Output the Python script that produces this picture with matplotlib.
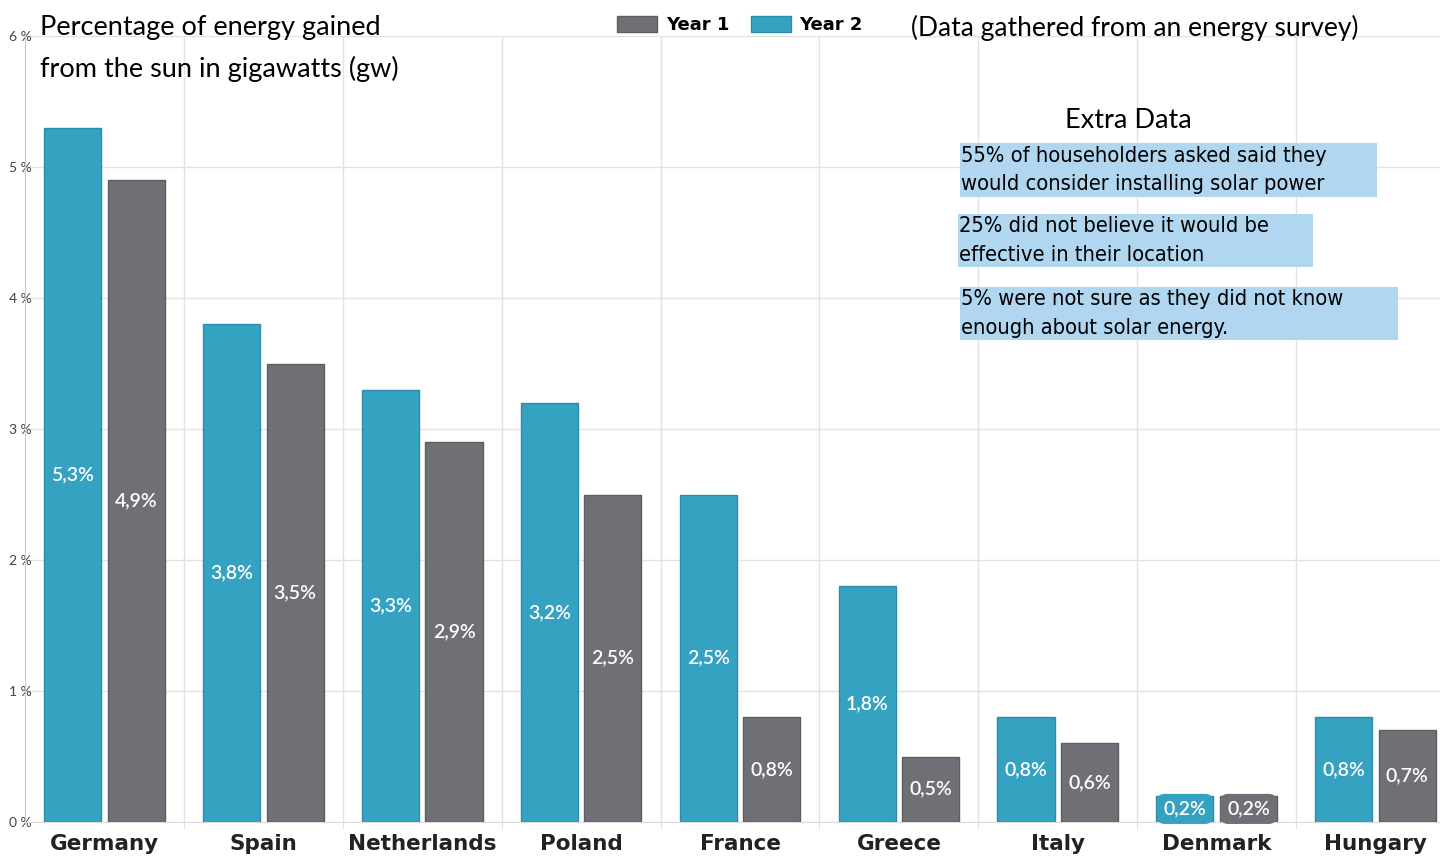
import matplotlib.pyplot as plt
from matplotlib.patches import Rectangle
import numpy as np

countries = ["Germany", "Spain", "Netherlands", "Poland", "France",
             "Greece", "Italy", "Denmark", "Hungary"]
year2 = [5.3, 3.8, 3.3, 3.2, 2.5, 1.8, 0.8, 0.2, 0.8]
year1 = [4.9, 3.5, 2.9, 2.5, 0.8, 0.5, 0.6, 0.2, 0.7]
yticks = [0, 1, 2, 3, 4, 5, 6]
notes = ["55% of householders asked said they\nwould consider installing solar power",
         "25% did not believe it would be\neffective in their location",
         "5% were not sure as they did not know\nenough about solar energy."]

BLUE = "#35a2c1"
GREY = "#6e7075"
W, H = 1440, 856

fig = plt.figure(figsize=(14.4, 8.56), dpi=100)
ax = fig.add_axes([25 / W, 34 / H, 1430 / W, 786 / H])

x = np.arange(len(countries))
b2 = ax.bar(x - 0.2, year2, 0.36, color=BLUE, edgecolor="#2b8cab", linewidth=1, label="Year 2", zorder=3)
b1 = ax.bar(x + 0.2, year1, 0.36, color=GREY, edgecolor="#5c5e62", linewidth=1, label="Year 1", zorder=3)

for bars, vals, col in [(b2, year2, BLUE), (b1, year1, GREY)]:
    for r, v in zip(bars, vals):
        txt = f"{v:.1f}".replace(".", ",") + "%"
        kw = {}
        if v < 0.3:
            kw["bbox"] = dict(boxstyle="round,pad=0.3,rounding_size=0.35", fc=col, ec=col)
        ax.text(r.get_x() + r.get_width() / 2, v / 2 if v >= 0.3 else 0.1, txt,
                ha="center", va="center", color="white", fontsize=14,
                family="Lato", fontweight="semibold", zorder=4, **kw)

ax.set_xlim(-0.5, 8.5)
ax.set_ylim(0, 6)
ax.set_yticks(yticks)
ax.set_yticklabels([f"{t} %" for t in yticks], family="Lato", fontsize=10, color="#444444")
ax.tick_params(axis="y", length=0, pad=-5)
for lab in ax.get_yticklabels():
    lab.set_verticalalignment("center_baseline")
ax.set_xticks(x)
ax.set_xticklabels(countries, fontsize=15.5, fontweight="bold", color="#222222")
ax.tick_params(axis="x", length=0, pad=9)
ax.set_xticks(np.arange(0.5, 8.5, 1), minor=True)
ax.tick_params(axis="x", which="minor", length=5, color="#dddddd")
ax.grid(axis="y", color="#e2e2e2", linewidth=1, zorder=0)
ax.grid(axis="x", which="minor", color="#e2e2e2", linewidth=1, zorder=0)
for s in ["top", "right"]:
    ax.spines[s].set_visible(False)
ax.spines["left"].set_color("#cccccc")
ax.spines["bottom"].set_color("#dddddd")

handles = [b1, b2]
fig.legend(handles, ["Year 1", "Year 2"], loc="center", bbox_to_anchor=(740 / W, 1 - 25 / H),
           ncol=2, frameon=False, prop=dict(weight="bold", size=13),
           handlelength=2.2, handleheight=1.0, columnspacing=1.2, handletextpad=0.5)

fig.text(40 / W, 1 - 15 / H, "Percentage of energy gained\nfrom the sun in gigawatts (gw)",
         family="Lato", fontsize=19.5, ha="left", va="top", linespacing=1.75)
fig.text(1135 / W, 1 - 28 / H, "(Data gathered from an energy survey)",
         family="Lato", fontsize=19, ha="center", va="center")
fig.text(1128 / W, 1 - 120 / H, "Extra Data", family="Lato", fontsize=19.5,
         ha="center", va="center")

boxes = [(960, 143, 1377, 197), (958, 214, 1313, 267), (960, 287, 1398, 340)]
for (x0, y0, x1, y1), note in zip(boxes, notes):
    fig.patches.append(Rectangle((x0 / W, 1 - y1 / H), (x1 - x0) / W, (y1 - y0) / H,
                                 transform=fig.transFigure, fc="#b0d6f0", ec="none", zorder=5))
    fig.text((x0 + 1) / W, 1 - (y0 + y1) / 2 / H, note, family="DejaVu Sans",
             fontstretch="condensed", fontsize=15.7, ha="left", va="center",
             linespacing=1.55, zorder=6)

fig.savefig("out.png", dpi=100)
